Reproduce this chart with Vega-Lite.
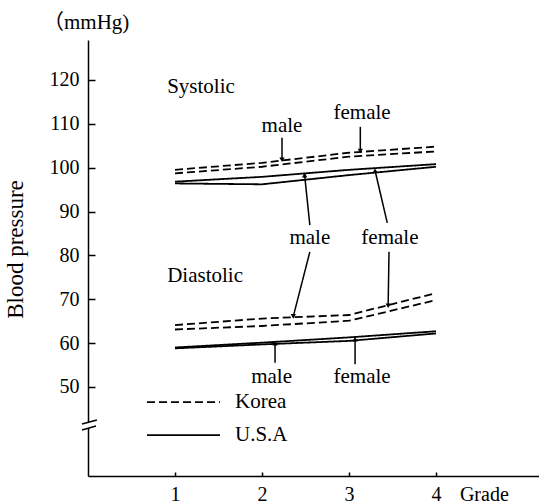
{
  "$schema": "https://vega.github.io/schema/vega-lite/v6.json",
  "width": 451,
  "height": 436,
  "autosize": {"type": "none"},
  "padding": {"left": 88, "top": 40, "right": 0, "bottom": 27},
  "background": "white",
  "config": {
    "view": {"stroke": null},
    "font": "Liberation Serif",
    "axis": {
      "ticks": false,
      "grid": true,
      "gridColor": "black",
      "gridWidth": 1.5,
      "gridOpacity": 1,
      "domainColor": "black",
      "domainWidth": 1.5,
      "labelFont": "Liberation Serif",
      "labelFontSize": 20,
      "labelColor": "black",
      "titleFont": "Liberation Serif",
      "titleFontSize": 23,
      "titleFontWeight": "normal",
      "titleColor": "black"
    }
  },
  "title": {
    "text": "（mmHg)",
    "anchor": "start",
    "frame": "group",
    "dx": -45,
    "dy": 24,
    "offset": 14,
    "baseline": "alphabetic",
    "font": "Liberation Serif, Noto Sans CJK JP",
    "fontSize": 21,
    "fontWeight": "normal",
    "color": "black"
  },
  "datasets": {
    "bp": [
      {"country": "Korea", "sex": "female", "type": "Systolic", "grade": 1, "bp": 99.5},
      {"country": "Korea", "sex": "female", "type": "Systolic", "grade": 2, "bp": 101.1},
      {"country": "Korea", "sex": "female", "type": "Systolic", "grade": 3, "bp": 103.4},
      {"country": "Korea", "sex": "female", "type": "Systolic", "grade": 4, "bp": 104.8},
      {"country": "Korea", "sex": "male", "type": "Systolic", "grade": 1, "bp": 98.7},
      {"country": "Korea", "sex": "male", "type": "Systolic", "grade": 2, "bp": 100.2},
      {"country": "Korea", "sex": "male", "type": "Systolic", "grade": 3, "bp": 102.5},
      {"country": "Korea", "sex": "male", "type": "Systolic", "grade": 4, "bp": 103.7},
      {"country": "U.S.A", "sex": "female", "type": "Systolic", "grade": 1, "bp": 96.8},
      {"country": "U.S.A", "sex": "female", "type": "Systolic", "grade": 2, "bp": 97.9},
      {"country": "U.S.A", "sex": "female", "type": "Systolic", "grade": 3, "bp": 99.5},
      {"country": "U.S.A", "sex": "female", "type": "Systolic", "grade": 4, "bp": 100.8},
      {"country": "U.S.A", "sex": "male", "type": "Systolic", "grade": 1, "bp": 96.4},
      {"country": "U.S.A", "sex": "male", "type": "Systolic", "grade": 2, "bp": 96.2},
      {"country": "U.S.A", "sex": "male", "type": "Systolic", "grade": 3, "bp": 98.3},
      {"country": "U.S.A", "sex": "male", "type": "Systolic", "grade": 4, "bp": 100.2},
      {"country": "Korea", "sex": "male", "type": "Diastolic", "grade": 1, "bp": 64.1},
      {"country": "Korea", "sex": "male", "type": "Diastolic", "grade": 2, "bp": 65.6},
      {"country": "Korea", "sex": "male", "type": "Diastolic", "grade": 3, "bp": 66.4},
      {"country": "Korea", "sex": "male", "type": "Diastolic", "grade": 4, "bp": 71.4},
      {"country": "Korea", "sex": "female", "type": "Diastolic", "grade": 1, "bp": 63.1},
      {"country": "Korea", "sex": "female", "type": "Diastolic", "grade": 2, "bp": 63.9},
      {"country": "Korea", "sex": "female", "type": "Diastolic", "grade": 3, "bp": 65.1},
      {"country": "Korea", "sex": "female", "type": "Diastolic", "grade": 4, "bp": 69.8},
      {"country": "U.S.A", "sex": "male", "type": "Diastolic", "grade": 1, "bp": 59.0},
      {"country": "U.S.A", "sex": "male", "type": "Diastolic", "grade": 2, "bp": 60.1},
      {"country": "U.S.A", "sex": "male", "type": "Diastolic", "grade": 3, "bp": 61.3},
      {"country": "U.S.A", "sex": "male", "type": "Diastolic", "grade": 4, "bp": 62.7},
      {"country": "U.S.A", "sex": "female", "type": "Diastolic", "grade": 1, "bp": 58.8},
      {"country": "U.S.A", "sex": "female", "type": "Diastolic", "grade": 2, "bp": 59.7},
      {"country": "U.S.A", "sex": "female", "type": "Diastolic", "grade": 3, "bp": 60.5},
      {"country": "U.S.A", "sex": "female", "type": "Diastolic", "grade": 4, "bp": 62.2}
    ],
    "key": [
      {"country": "Korea", "grade": 0.678, "grade2": 1.517, "text_x": 1.69, "bp": 46.56},
      {"country": "U.S.A", "grade": 0.678, "grade2": 1.517, "text_x": 1.69, "bp": 39.04}
    ],
    "headings": [
      {"label": "Systolic", "grade": 0.91, "bp": 118.4},
      {"label": "Diastolic", "grade": 0.91, "bp": 75.2}
    ],
    "labels": [
      {"label": "male", "grade": 2.23, "bp": 109.5},
      {"label": "female", "grade": 3.15, "bp": 112.5},
      {"label": "male", "grade": 2.55, "bp": 84.0},
      {"label": "female", "grade": 3.47, "bp": 84.0},
      {"label": "male", "grade": 2.11, "bp": 52.3},
      {"label": "female", "grade": 3.15, "bp": 52.3}
    ],
    "arrows": [
      {"dir": "down", "grade": 2.23, "bp": 106.8, "grade2": 2.23, "bp2": 101.8},
      {"dir": "down", "grade": 3.13, "bp": 109.3, "grade2": 3.13, "bp2": 103.8},
      {"dir": "up", "grade": 2.55, "bp": 86.9, "grade2": 2.49, "bp2": 98.3},
      {"dir": "down", "grade": 2.55, "bp": 80.8, "grade2": 2.36, "bp2": 66.1},
      {"dir": "up", "grade": 3.44, "bp": 87.4, "grade2": 3.30, "bp2": 99.3},
      {"dir": "down", "grade": 3.46, "bp": 80.8, "grade2": 3.45, "bp2": 68.5},
      {"dir": "up", "grade": 2.15, "bp": 55.5, "grade2": 2.15, "bp2": 60.0},
      {"dir": "up", "grade": 3.07, "bp": 55.2, "grade2": 3.07, "bp2": 60.9}
    ],
    "gap": [
      {"grade": 0, "bp": 40.6, "bp2": 42.0}
    ],
    "breaks": [
      {"grade": -0.069, "bp": 41.55, "grade2": 0.103, "bp2": 42.46},
      {"grade": -0.069, "bp": 40.18, "grade2": 0.092, "bp2": 41.1}
    ]
  },
  "layer": [
    {
      "data": {"name": "bp"},
      "mark": {"type": "line", "color": "black", "strokeWidth": 1.8},
      "encoding": {
        "x": {
          "field": "grade", "type": "quantitative",
          "scale": {"domain": [0, 5.184], "nice": false, "zero": false},
          "axis": {
            "values": [1, 2, 3, 4, 4.55],
            "format": "d",
            "labelExpr": "datum.value > 4.2 ? 'Grade' : datum.label",
            "gridDash": [0, 432, 4, 1000],
            "gridOpacity": {"condition": {"test": "datum.value > 4.2", "value": 0}, "value": 1},
            "labelPadding": 8,
            "title": null
          }
        },
        "y": {
          "field": "bp", "type": "quantitative",
          "scale": {"domain": [29.7, 129.1], "nice": false, "zero": false},
          "axis": {
            "values": [50, 60, 70, 80, 90, 100, 110, 120],
            "gridDash": [7, 1000],
            "labelPadding": 9,
            "title": "Blood pressure",
            "titlePadding": 22,
            "titleY": 209
          }
        },
        "strokeDash": {
          "field": "country", "type": "nominal",
          "scale": {"domain": ["Korea", "U.S.A"], "range": [[8, 4], [1, 0]]},
          "legend": null
        },
        "detail": [{"field": "sex", "type": "nominal"}, {"field": "type", "type": "nominal"}],
        "order": {"field": "grade", "type": "quantitative"}
      }
    },
    {
      "data": {"name": "key"},
      "mark": {"type": "rule", "color": "black", "strokeWidth": 1.8},
      "encoding": {
        "x": {"field": "grade", "type": "quantitative", "scale": {"domain": [0, 5.184], "nice": false, "zero": false}},
        "x2": {"field": "grade2"},
        "y": {"field": "bp", "type": "quantitative", "scale": {"domain": [29.7, 129.1], "nice": false, "zero": false}},
        "strokeDash": {"field": "country", "type": "nominal", "scale": {"domain": ["Korea", "U.S.A"], "range": [[8, 4], [1, 0]]}, "legend": null}
      }
    },
    {
      "data": {"name": "key"},
      "mark": {"type": "text", "align": "left", "baseline": "middle", "font": "Liberation Serif", "fontSize": 21, "color": "black"},
      "encoding": {
        "x": {"field": "text_x", "type": "quantitative", "scale": {"domain": [0, 5.184], "nice": false, "zero": false}},
        "y": {"field": "bp", "type": "quantitative", "scale": {"domain": [29.7, 129.1], "nice": false, "zero": false}},
        "text": {"field": "country"}
      }
    },
    {
      "data": {"name": "headings"},
      "mark": {"type": "text", "align": "left", "baseline": "middle", "font": "Liberation Serif", "fontSize": 21, "color": "black"},
      "encoding": {
        "x": {"field": "grade", "type": "quantitative", "scale": {"domain": [0, 5.184], "nice": false, "zero": false}},
        "y": {"field": "bp", "type": "quantitative", "scale": {"domain": [29.7, 129.1], "nice": false, "zero": false}},
        "text": {"field": "label"}
      }
    },
    {
      "data": {"name": "labels"},
      "mark": {"type": "text", "align": "center", "baseline": "middle", "font": "Liberation Serif", "fontSize": 21, "color": "black"},
      "encoding": {
        "x": {"field": "grade", "type": "quantitative", "scale": {"domain": [0, 5.184], "nice": false, "zero": false}},
        "y": {"field": "bp", "type": "quantitative", "scale": {"domain": [29.7, 129.1], "nice": false, "zero": false}},
        "text": {"field": "label"}
      }
    },
    {
      "data": {"name": "arrows"},
      "mark": {"type": "rule", "color": "black", "strokeWidth": 1.5},
      "encoding": {
        "x": {"field": "grade", "type": "quantitative", "scale": {"domain": [0, 5.184], "nice": false, "zero": false}},
        "y": {"field": "bp", "type": "quantitative", "scale": {"domain": [29.7, 129.1], "nice": false, "zero": false}},
        "x2": {"field": "grade2"},
        "y2": {"field": "bp2"}
      }
    },
    {
      "data": {"name": "arrows"},
      "transform": [{"filter": "datum.dir == 'down'"}],
      "mark": {"type": "point", "shape": "triangle-down", "filled": true, "color": "black", "size": 28, "opacity": 1},
      "encoding": {
        "x": {"field": "grade2", "type": "quantitative", "scale": {"domain": [0, 5.184], "nice": false, "zero": false}},
        "y": {"field": "bp2", "type": "quantitative", "scale": {"domain": [29.7, 129.1], "nice": false, "zero": false}}
      }
    },
    {
      "data": {"name": "arrows"},
      "transform": [{"filter": "datum.dir == 'up'"}],
      "mark": {"type": "point", "shape": "triangle-up", "filled": true, "color": "black", "size": 28, "opacity": 1},
      "encoding": {
        "x": {"field": "grade2", "type": "quantitative", "scale": {"domain": [0, 5.184], "nice": false, "zero": false}},
        "y": {"field": "bp2", "type": "quantitative", "scale": {"domain": [29.7, 129.1], "nice": false, "zero": false}}
      }
    },
    {
      "data": {"name": "gap"},
      "mark": {"type": "rule", "color": "white", "strokeWidth": 4},
      "encoding": {
        "x": {"field": "grade", "type": "quantitative", "scale": {"domain": [0, 5.184], "nice": false, "zero": false}},
        "y": {"field": "bp", "type": "quantitative", "scale": {"domain": [29.7, 129.1], "nice": false, "zero": false}},
        "y2": {"field": "bp2"}
      }
    },
    {
      "data": {"name": "breaks"},
      "mark": {"type": "rule", "color": "black", "strokeWidth": 1.5},
      "encoding": {
        "x": {"field": "grade", "type": "quantitative", "scale": {"domain": [0, 5.184], "nice": false, "zero": false}},
        "y": {"field": "bp", "type": "quantitative", "scale": {"domain": [29.7, 129.1], "nice": false, "zero": false}},
        "x2": {"field": "grade2"},
        "y2": {"field": "bp2"}
      }
    }
  ]
}
